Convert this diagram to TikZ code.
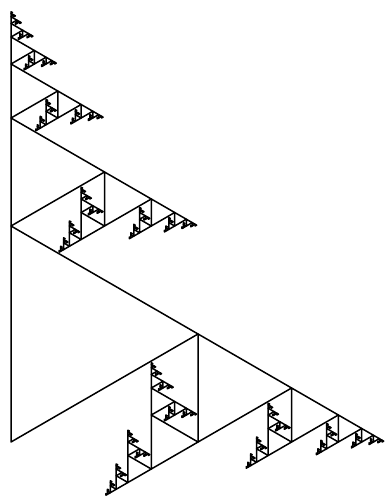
\documentclass[tikz,border=0pt]{standalone}
\tikzset{frline/.style={draw=black, line width=1.5pt, line join=round}}
% recursive triangle: #1 x of top vertex, #2 y of top vertex (downward), #3 side,
% #4 vertex joined to parent (1 top, 2 bottom, 3 apex), #5 remaining depth
\def\fractri#1#2#3#4#5{%
 \begingroup
 \edef\frX{#1}\edef\frY{#2}\edef\frS{#3}\edef\frP{#4}\edef\frD{#5}%
 \pgfmathsetmacro\frCx{\frX+0.8660254*\frS}%
 \pgfmathsetmacro\frCy{\frY+0.5*\frS}%
 \pgfmathsetmacro\frBy{\frY+\frS}%
 \draw[frline] (\frX,\frY) -- (\frX,\frBy) -- (\frCx,\frCy) -- cycle;
 \ifnum\frD>0
  \pgfmathsetmacro\frH{0.5*\frS}%
  \pgfmathtruncatemacro\frDn{\frD-1}%
  \ifnum\frP=1 \else
    \pgfmathsetmacro\frNy{\frY-\frH}%
    \fractri{\frX}{\frNy}{\frH}{2}{\frDn}%
  \fi
  \ifnum\frP=3 \else
    \fractri{\frCx}{\frCy}{\frH}{1}{\frDn}%
  \fi
  \ifnum\frP=2 \else
    \pgfmathsetmacro\frNx{\frX-0.8660254*\frH}%
    \pgfmathsetmacro\frNy{\frY+\frS-0.5*\frH}%
    \fractri{\frNx}{\frNy}{\frH}{3}{\frDn}%
  \fi
 \fi
 \endgroup}
\begin{document}
\begin{tikzpicture}[x=1pt,y=-1pt]
\fill[white] (0,0) rectangle (386,497);
\useasboundingbox (0,0) rectangle (386,497);
\fractri{11}{226}{216}{2}{7}
\end{tikzpicture}
\end{document}
